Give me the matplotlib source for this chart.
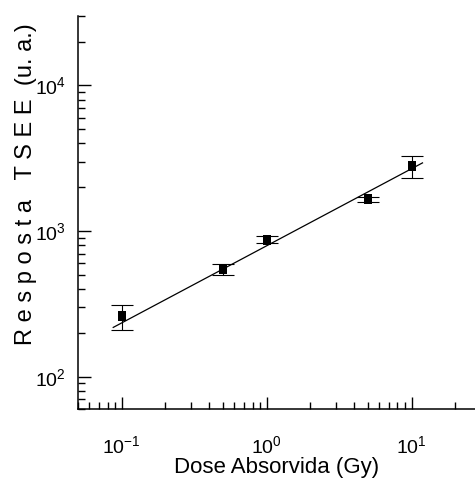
import numpy as np
import matplotlib
matplotlib.use("Agg")
import matplotlib.pyplot as plt
from matplotlib import font_manager
from matplotlib.path import Path
from matplotlib.ticker import FixedLocator, LogLocator, NullFormatter, FixedFormatter

names = {f.name for f in font_manager.fontManager.ttflist}
if 'Liberation Sans Narrow' in names:
    tick_font, tick_size = 'Liberation Sans Narrow', 17
else:
    tick_font, tick_size = 'Liberation Sans', 14

plt.rcParams['font.family'] = ['Liberation Sans', 'DejaVu Sans']
plt.rcParams['mathtext.fontset'] = 'custom'
plt.rcParams['mathtext.rm'] = tick_font
plt.rcParams['mathtext.it'] = tick_font
plt.rcParams['mathtext.bf'] = tick_font
plt.rcParams['mathtext.sf'] = tick_font
plt.rcParams['mathtext.default'] = 'rm'

# data
dose = [0.1, 0.5, 1.0, 5.0, 10.0]
response = [260, 545, 870, 1655, 2790]
response_err = [50, 48, 48, 70, 490]
fit_x = [0.0875, 11.9]
fit_y = [218, 2940]
xtick_vals = [0.1, 1, 10]
xtick_labels = ["10$^{-1}$", "10$^{0}$", "10$^{1}$"]
ytick_vals = [100, 1000, 10000]
ytick_labels = ["10$^{2}$", "10$^{3}$", "10$^{4}$"]

W, H = 475, 493
fig = plt.figure(figsize=(W / 100, H / 100), dpi=100)
ax = fig.add_axes([78 / W, 1 - 409 / H, (475 - 78) / W, (409 - 16) / H])

ax.set_xscale('log')
ax.set_yscale('log')
ax.set_xlim(0.05, 27.4)
ax.set_ylim(60, 30000)

rect = Path([(-0.35, -0.5), (0.35, -0.5), (0.35, 0.5), (-0.35, 0.5), (-0.35, -0.5)],
            [Path.MOVETO, Path.LINETO, Path.LINETO, Path.LINETO, Path.CLOSEPOLY])

ax.plot(fit_x, fit_y, color='black', lw=0.9)
ax.errorbar(dose, response, yerr=response_err, fmt='none', ecolor='black',
            elinewidth=0.8, capsize=8, capthick=0.8)
ax.plot(dose, response, linestyle='none', marker=rect, markersize=7.5,
        color='black', markeredgewidth=0)

for s in ['top', 'right']:
    ax.spines[s].set_visible(False)
for s in ['left', 'bottom']:
    ax.spines[s].set_linewidth(1.1)

ax.xaxis.set_major_locator(FixedLocator(xtick_vals))
ax.xaxis.set_major_formatter(FixedFormatter(xtick_labels))
ax.yaxis.set_major_locator(FixedLocator(ytick_vals))
ax.yaxis.set_major_formatter(FixedFormatter(ytick_labels))
ax.xaxis.set_minor_locator(LogLocator(base=10, subs=np.arange(2, 10), numticks=20))
ax.yaxis.set_minor_locator(LogLocator(base=10, subs=np.arange(2, 10), numticks=20))
ax.xaxis.set_minor_formatter(NullFormatter())
ax.yaxis.set_minor_formatter(NullFormatter())

ax.tick_params(axis='both', which='major', direction='in', length=9, width=1.0,
               labelsize=tick_size)
ax.tick_params(axis='both', which='minor', direction='in', length=5, width=1.0)
ax.tick_params(axis='x', which='major', pad=19)
ax.tick_params(axis='y', which='major', pad=9)

ax.set_xlabel("Dose Absorvida (Gy)", fontsize=16, labelpad=0)
fig.text(26 / W, 1 - 184 / H, "R e s p o s t a   T S E E  (u. a.)", rotation=90,
         ha='center', va='center', fontsize=17)

fig.savefig("out.png", dpi=100)
